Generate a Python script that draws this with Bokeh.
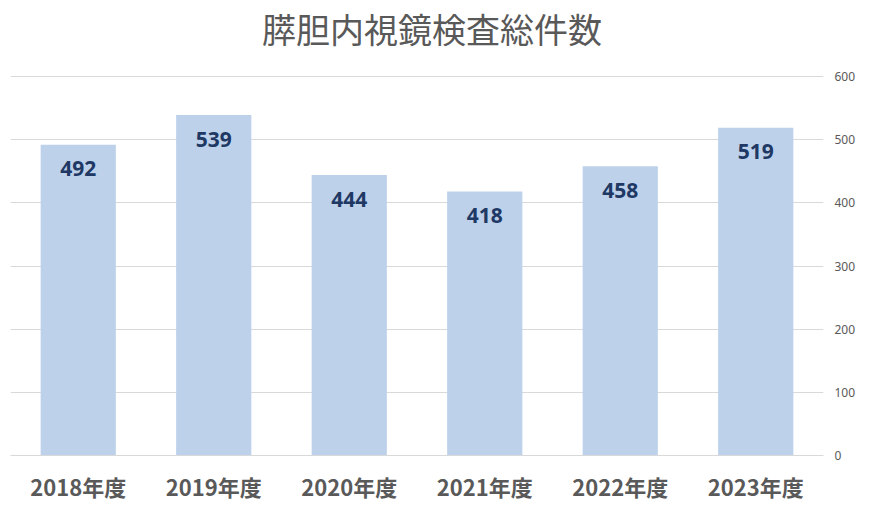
from bokeh.plotting import figure
from bokeh.models import ColumnDataSource, LabelSet, Label, FactorRange, Range1d, LinearAxis, FixedTicker
from bokeh.core.properties import value
from bokeh.embed import file_html
from bokeh.resources import INLINE

title_text = "膵胆内視鏡検査総件数"
categories = ["2018年度", "2019年度", "2020年度", "2021年度", "2022年度", "2023年度"]
counts = [492, 539, 444, 418, 458, 519]
y_ticks = [0, 100, 200, 300, 400, 500, 600]

src = ColumnDataSource(dict(cat=categories, val=counts, txt=[str(v) for v in counts]))

# frame spans from the very top so the title can live inside it;
# 600 lands 76px below the top edge
px_per_unit = 379 / 600
y_top = 455 / px_per_unit

p = figure(width=871, height=515, x_range=FactorRange(*categories), y_range=Range1d(0, y_top),
           output_backend="svg", toolbar_location=None, y_axis_location=None)
p.min_border_left = 10
p.min_border_right = 48
p.min_border_top = 0
p.min_border_bottom = 60
p.outline_line_color = None

p.vbar(x="cat", top="val", width=0.555, source=src, color="#BDD1EA", line_color=None)

labels = LabelSet(x="cat", y="val", text="txt", source=src, y_offset=-24,
                  text_align="center", text_baseline="middle",
                  text_font=value("Noto Sans"), text_font_style="bold", text_font_size="21px",
                  text_color="#203864")
p.add_layout(labels)

title = Label(x=len(categories) / 2, y=y_ticks[-1], x_offset=15, y_offset=48, text=title_text,
              text_align="center", text_baseline="middle",
              text_font="Noto Sans CJK JP", text_font_size="34px", text_color="#595959")
p.add_layout(title)

yax = LinearAxis(ticker=FixedTicker(ticks=y_ticks))
yax.axis_line_color = None
yax.major_tick_line_color = None
yax.minor_tick_line_color = None
yax.major_label_text_font = "Noto Sans"
yax.major_label_text_font_size = "12px"
yax.major_label_text_color = "#595959"
yax.major_label_standoff = 5
p.add_layout(yax, "right")

p.ygrid.ticker = FixedTicker(ticks=y_ticks)
p.ygrid.grid_line_color = "#D9D9D9"
p.xgrid.grid_line_color = None

p.xaxis.axis_line_color = "#D9D9D9"
p.xaxis.major_tick_line_color = None
p.xaxis.minor_tick_line_color = None
p.xaxis.major_label_text_font = "Noto Sans CJK JP"
p.xaxis.major_label_text_font_style = "bold"
p.xaxis.major_label_text_font_size = "22px"
p.xaxis.major_label_text_color = "#595959"
p.xaxis.major_label_standoff = 8

open("out.html", "w").write(file_html(p, INLINE))
